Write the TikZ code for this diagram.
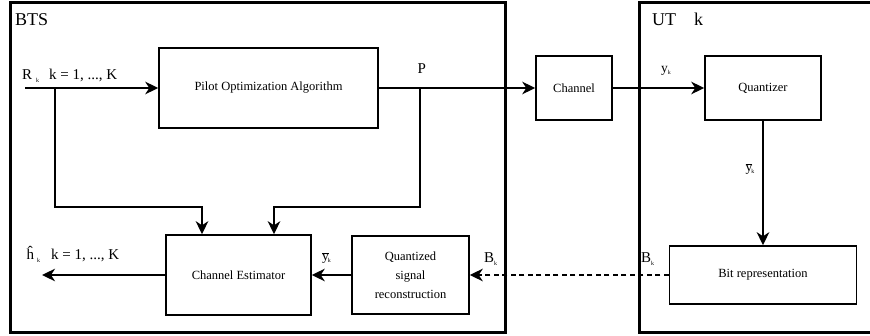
\documentclass[tikz,border=0pt]{standalone}
\usepackage{fontspec}
\setmainfont{Liberation Serif}
\usetikzlibrary{arrows.meta,positioning,calc}
\tikzset{
  every node/.style={font=\fontsize{12.5}{19}\selectfont, text=black},
  blk/.style={draw, line width=1.5pt, align=center, inner sep=0pt},
  frame/.style={draw, line width=3pt},
  arr/.style={-{Stealth[length=13pt,width=12.5pt,inset=4pt]}, line width=1.9pt},
  lbl/.style={font=\fontsize{15}{18}\selectfont, inner sep=0pt, anchor=base west},
  sublbl/.style={font=\fontsize{13.5}{16}\selectfont, inner sep=0pt, anchor=base west},
}
\newcommand{\tsub}[1]{\raisebox{-0.3ex}{\fontsize{6}{7}\selectfont #1}}
\newcommand{\ybar}{$\overline{\hbox{y}}$}

\begin{document}
\begin{tikzpicture}[x=1pt, y=-1pt]
  \useasboundingbox (0,0) rectangle (870,336);

  % BTS and UT frames
  \draw[frame] (10,3) rectangle (505,333);
  \draw[frame] (880,3) -| (639,333) -- (880,333);
  \node[lbl, font=\fontsize{18}{20}\selectfont] (bts) at (15,26) {BTS};
  \node[lbl, font=\fontsize{18}{20}\selectfont] (ut) at (652,26) {UT\hspace{18pt}k};

  % blocks
  \node[blk, minimum width=219pt, minimum height=80pt] (poa) at (268.5,88) {Pilot Optimization Algorithm};
  \node[blk, minimum width=76pt, minimum height=64pt] (chan) at (574,88) {Channel};
  \node[blk, minimum width=116pt, minimum height=64pt] (quant) at (763,88) {Quantizer};
  \node[blk, minimum width=145pt, minimum height=80pt] (ce) at (238.5,275) {Channel Estimator};
  \node[blk, minimum width=117pt, minimum height=78pt] (qsr) at (410.5,275) {Quantized\\signal\\reconstruction};
  \node[blk, minimum width=187pt, minimum height=58pt] (bitrep) at (763,275) {Bit representation};

  \coordinate (rin) at (25,88);
  \coordinate (rsplit) at (55,88);
  \coordinate (psplit) at (420,88);
  \coordinate (est) at (42,275);

  % connectors
  \draw[arr] (rin) -- (poa);
  \draw[arr] (rsplit) -- ++(0,119) -| ([xshift=-36.5pt]ce.north);
  \draw[arr] (psplit) -- ++(0,119) -| ([xshift=35.5pt]ce.north);
  \draw[arr] (poa) -- (chan);
  \draw[arr] (chan) -- (quant);
  \draw[arr] (quant) -- (bitrep);
  \draw[arr, dash pattern=on 5pt off 3.5pt] (bitrep) -- (qsr);
  \draw[arr] (qsr) -- (ce);
  \draw[arr] (ce) -- (est);

  % labels
  \node[lbl] (rlbl) at (22,80) {R\hspace{4pt}\tsub{k}\hspace{10pt}k = 1, ..., K};
  \node[lbl] (hlbl) at (26.5,260) {\^h\hspace{3pt}\tsub{k}\hspace{11pt}k = 1, ..., K};
  \node[lbl] (plbl) at (417.5,74) {P};
  \node[sublbl] (ylbl) at (661,73) {y\tsub{k}};
  \node[sublbl] (ybq) at (745.5,172) {\ybar\hspace{-1pt}\tsub{k}};
  \node[sublbl] (ybc) at (322,261) {\ybar\hspace{-1pt}\tsub{k}};
  \node[lbl] (bl) at (484,263) {B\tsub{k}};
  \node[lbl] (br) at (641,263) {B\tsub{k}};
\end{tikzpicture}
\end{document}
